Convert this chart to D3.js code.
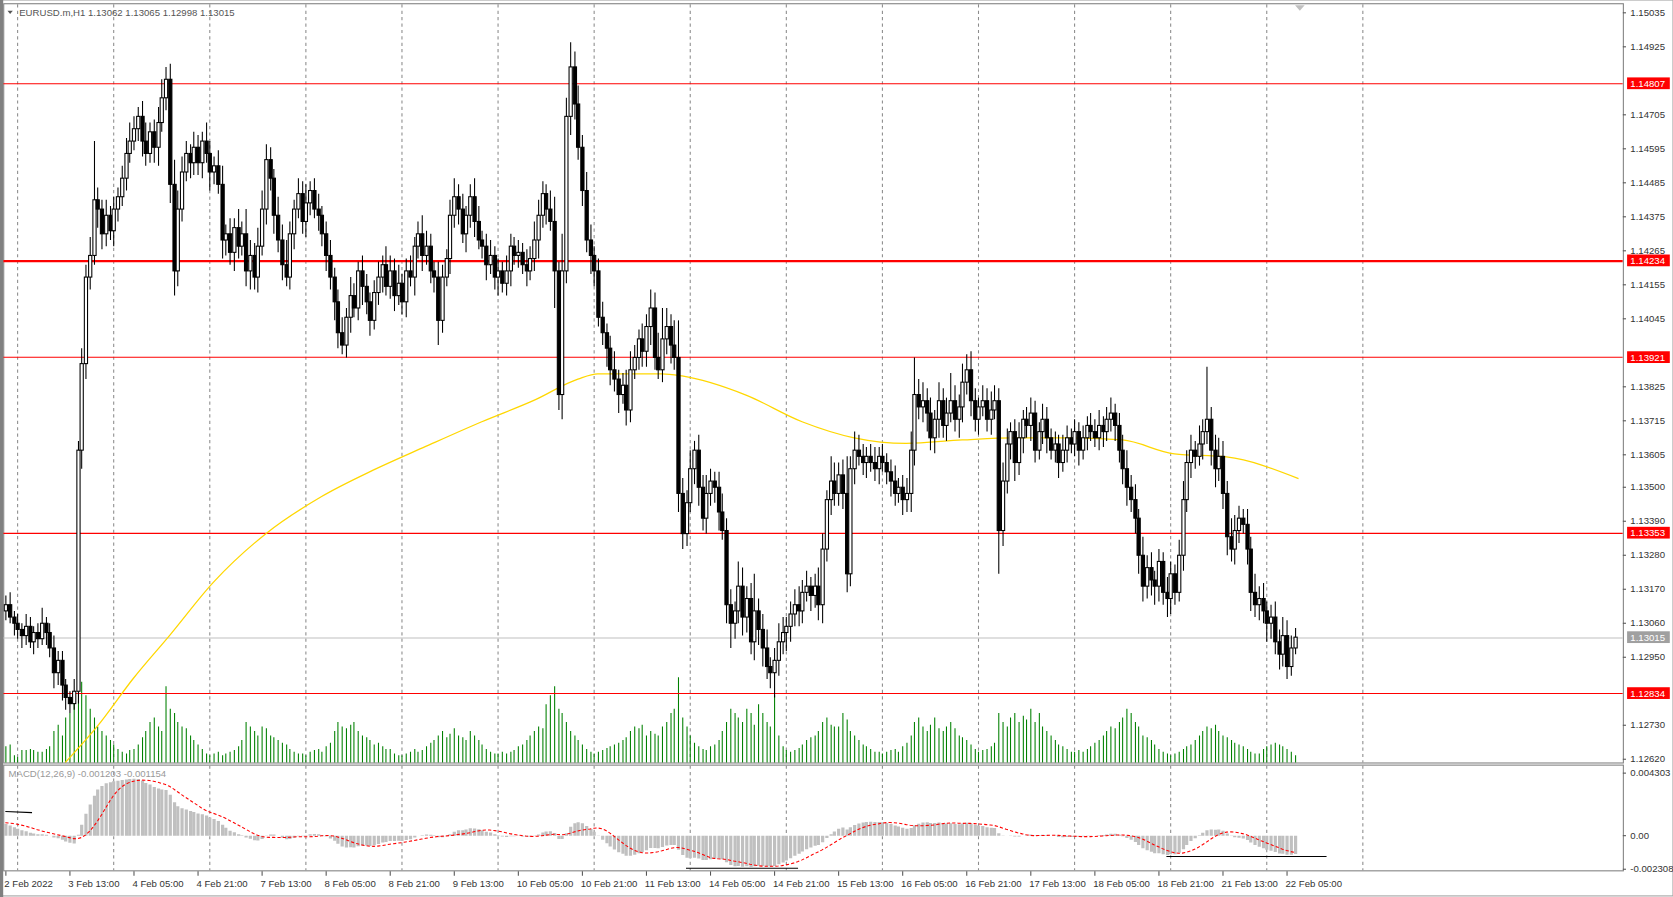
<!DOCTYPE html>
<html><head><meta charset="utf-8">
<script src="https://cdn.jsdelivr.net/npm/d3@7"></script>
<style>body{margin:0;background:#fff}svg{display:block}text{font-family:"Liberation Sans",Arial,sans-serif}</style>
</head><body><svg id="c" width="1673" height="897"></svg>
<script>
// closes in pips (1305 => 1.1305), one per H1 bar starting 2 Feb 21:00
const closes=[
1312,1308,1306,1304,1302,1305,1300,1303,1301,1306,1303,1298,1290,1294,1286,1282,
1280,1284,1362,1390,1418,1425,1443,1440,1432,1438,1433,1440,1444,1450,1458,1462,
1466,1470,1462,1458,1465,1460,1468,1476,1482,1448,1420,1440,1452,1458,1455,1460,
1455,1462,1458,1452,1454,1448,1430,1432,1426,1434,1428,1432,1420,1425,1418,1428,
1440,1456,1450,1438,1430,1422,1418,1432,1440,1445,1436,1442,1446,1440,1438,1432,
1425,1418,1410,1400,1396,1405,1412,1408,1420,1415,1410,1404,1413,1418,1422,1415,
1420,1412,1416,1410,1420,1418,1428,1432,1425,1428,1420,1418,1404,1418,1424,1438,
1444,1440,1432,1438,1444,1436,1430,1428,1422,1425,1418,1420,1416,1420,1428,1425,
1426,1422,1420,1424,1430,1438,1445,1440,1436,1420,1380,1420,1470,1486,1474,1460,
1446,1430,1425,1420,1405,1400,1395,1388,1385,1380,1383,1375,1388,1392,1398,1394,
1402,1408,1392,1388,1398,1402,1396,1392,1348,1335,1345,1356,1362,1350,1340,1348,
1352,1350,1342,1336,1312,1306,1310,1318,1308,1314,1300,1310,1304,1298,1292,1290,
1294,1300,1303,1305,1309,1312,1310,1316,1318,1315,1318,1312,1330,1346,1352,1348,
1354,1348,1322,1356,1362,1360,1358,1360,1358,1356,1360,1358,1355,1352,1348,1350,
1346,1348,1362,1380,1376,1378,1374,1366,1372,1378,1370,1374,1378,1372,1376,1384,
1388,1378,1372,1376,1378,1372,1375,1378,1336,1352,1364,1368,1358,1366,1372,1370,
1374,1362,1368,1372,1366,1362,1364,1358,1362,1366,1364,1368,1362,1366,1370,1368,
1366,1370,1368,1372,1374,1370,1362,1356,1350,1346,1340,1328,1318,1324,1320,1318,
1326,1316,1314,1322,1316,1328,1346,1358,1362,1360,1364,1368,1372,1362,1356,1360,
1348,1334,1330,1336,1340,1338,1330,1316,1312,1314,1310,1306,1308,1300,1296,1302,
1292,1298,1301.5];
const firstOpen=1310;
const upWick=[
3,4,2,3,2,4,3,2,3,5,2,3,4,3,3,2, 2,4,3,5,4,6,19,4,3,5,3,4,3,4,5,6,
4,3,5,6,3,4,5,6,4,5,8,6,5,4,3,5, 4,3,6,4,3,5,6,3,5,3,6,4,8,5,4,6,
6,5,4,3,6,5,8,4,3,5,4,6,3,4,5,3, 4,5,3,4,5,3,6,4,3,5,4,3,4,5,3,6,
5,4,6,3,4,5,3,4,6,5,4,3,5,4,3,5, 6,4,5,3,4,6,5,3,4,5,3,4,3,5,4,3,
4,3,5,4,6,5,4,3,6,8,3,12,6,8,5,6, 4,6,5,3,4,5,3,4,6,3,4,5,6,4,3,5,
4,6,5,8,10,6,4,8,12,5,4,6,3,5,4,6, 4,3,5,6,4,5,3,8,6,4,5,12,4,5,6,3,
4,6,5,3,4,5,6,4,5,3,4,6,5,3,8,6, 4,5,12,4,6,5,4,3,4,5,3,4,3,4,5,3,
4,5,6,12,5,6,4,5,3,6,4,5,9,5,4,6, 5,6,4,3,5,4,6,5,4,6,5,3,4,5,3,4,
5,4,3,5,4,3,4,3,5,4,3,4,3,4,3,4, 4,5,3,4,5,3,4,5,6,4,5,3,6,4,5,3,
4,3,5,4,3,5,6,4,5,3,6,4,17,4,5,6, 5,4,6,5,4,3,5,4,6,4,5,3,4,5,4,6, 5,4,3];
const downWick=[
3,2,4,3,4,3,2,4,3,2,4,3,5,4,5,4, 3,2,4,6,5,4,3,6,5,4,3,5,4,3,4,3,
3,4,5,4,3,5,6,3,4,6,8,5,4,3,5,4, 4,5,3,6,4,3,6,5,4,6,4,3,5,6,4,5,
3,5,4,6,4,5,3,4,5,3,4,5,4,3,5,4, 5,4,6,5,3,4,5,3,4,6,4,5,3,4,5,3,
4,5,3,4,5,3,6,4,5,3,4,5,8,4,3,5, 4,5,3,6,4,5,3,4,5,3,4,6,3,4,5,3,
4,3,5,3,4,6,4,5,3,12,5,8,4,6,5,4, 5,4,6,5,3,4,6,5,4,6,3,5,4,3,4,5,
5,6,4,3,4,5,6,4,6,5,4,3,5,6,4,5, 4,5,6,3,6,8,5,4,6,5,4,6,5,6,4,5,
8,5,4,6,5,4,5,4,3,5,4,5,6,4,5,4, 4,5,6,4,5,3,4,5,3,4,5,3,4,5,4,3,
5,4,6,5,4,5,6,4,5,6,4,5,3,4,6,5, 4,5,4,5,3,4,5,3,14,5,4,5,6,4,5,4,
5,4,3,4,5,3,4,5,3,4,3,4,5,3,4,3, 3,4,5,3,4,5,4,5,6,4,5,6,5,4,5,6,
5,4,6,5,4,3,5,4,5,4,3,5,4,5,6,4, 5,6,4,5,4,3,5,6,4,5,4,6,5,4,5,4, 4,3,2];
const volumes=[
18,20,8,6,14,14,15,14,12,12,15,18,35,42,30,50, 55,70,95,90,75,60,50,40,35,30,25,20,15,12,10,14,
15,20,28,35,45,50,40,35,85,60,55,45,40,38,30,25, 20,15,10,8,10,12,8,10,12,14,18,25,45,40,35,30,
40,38,30,28,25,22,20,15,12,10,10,8,12,14,15,12, 18,22,35,45,40,38,42,45,35,30,28,25,20,22,18,15,
15,10,8,8,10,12,15,12,14,18,22,25,30,35,28,32, 38,30,28,25,35,30,25,20,15,12,10,10,12,10,12,14,
18,20,25,30,35,40,38,65,75,85,60,55,45,35,30,25, 20,15,12,10,12,14,16,18,20,22,25,28,35,40,38,42,
30,35,32,30,40,45,55,60,95,50,40,30,22,18,15,14, 18,20,25,35,45,60,55,50,45,60,55,42,65,55,45,40,
75,30,18,14,12,14,16,20,25,28,30,35,45,50,42,40, 40,55,48,35,30,25,20,18,15,12,12,10,12,14,15,12,
18,22,30,45,50,40,35,42,50,38,35,40,45,38,30,28, 25,20,15,12,14,15,18,22,55,45,40,50,55,45,52,48,
60,45,55,40,35,30,25,20,18,15,12,12,14,12,15,18, 22,25,30,35,40,38,45,50,60,55,45,40,30,28,25,20,
15,12,10,8,10,12,15,18,20,25,30,35,40,38,42,35, 30,28,25,22,20,18,15,12,10,10,15,18,20,22,20,18, 15,12,8];
// moving average readings (bar index, pips)
const maBars=[15,23,32,41,52,65,79,92,105,119,132,143,148,164,169,185,199,212,225,239,252,265,279,292,305,323];
const maVals=[1261,1272.7,1288.2,1302,1319.3,1334.9,1347,1355.6,1363.2,1371.2,1378.1,1385,1386.7,1386.7,1386,1379.8,1371.2,1366,1364.2,1365.3,1366,1366,1365.3,1360.8,1359.8,1352.8];
const levels=[1.14807,1.14234,1.13921,1.13353,1.12834];
const levelWidth=[1,2,1,1,1];
const priceTicks=["1.15035","1.14925","1.14705","1.14595","1.14485","1.14375","1.14265","1.14155","1.14045","1.13825","1.13715","1.13605","1.13500","1.13390","1.13280","1.13170","1.13060","1.12950","1.12730","1.12620"];
const xLabels=["2 Feb 2022","3 Feb 13:00","4 Feb 05:00","4 Feb 21:00","7 Feb 13:00","8 Feb 05:00","8 Feb 21:00","9 Feb 13:00","10 Feb 05:00","10 Feb 21:00","11 Feb 13:00","14 Feb 05:00","14 Feb 21:00","15 Feb 13:00","16 Feb 05:00","16 Feb 21:00","17 Feb 13:00","18 Feb 05:00","18 Feb 21:00","21 Feb 13:00","22 Feb 05:00"];
const macdTicks=["0.004303","0.00","-0.002308"];
const macdSeed={fast:1.13150,slow:1.13060,signal:0.00090};
const lastPrice=1.13015;

const root=d3.select("#c");
const svg=root.append("g").attr("transform","scale("+(1673/1567)+","+(897/840)+")");
const P=v=>1+v/10000;
const x=d3.scaleLinear().domain([0,1]).range([5,8.75]);
const y=d3.scaleLinear().domain([1.12620,1.15035]).range([711,12]);
const yv=d3.scaleLinear().domain([0,100]).range([714,630]);
const ym=d3.scaleLinear().domain([-0.002308,0.004303]).range([814,724]);
const R=1520;
const bars=closes.map((c,i)=>{const o=i?closes[i-1]:firstOpen;return{i,o:P(o),c:P(c),h:P(Math.max(o,c)+upWick[i]),l:P(Math.min(o,c)-downWick[i]),v:volumes[i]};});

root.append("defs").html('<clipPath id="cp"><rect x="3" y="3" width="1517" height="712"/></clipPath><clipPath id="cm"><rect x="3" y="717" width="1517" height="98"/></clipPath>');
svg.append("rect").attr("x",0).attr("y",0).attr("width",1567).attr("height",839).attr("fill","#fff").attr("stroke","#a0a0a0");
svg.append("line").attr("x1",1.5).attr("x2",1.5).attr("y1",0).attr("y2",840).attr("stroke","#808080").attr("stroke-width",3);
svg.append("rect").attr("x",3.5).attr("y",3.5).attr("width",R-3).attr("height",711).attr("fill","none").attr("stroke","#808080");
svg.append("rect").attr("x",3.5).attr("y",716.5).attr("width",R-3).attr("height",99).attr("fill","none").attr("stroke","#808080");
const g=svg.append("g");
for(let b=3;b<=340;b+=24){const gx=Math.round(x(b))+0.5;
 g.append("line").attr("x1",gx).attr("x2",gx).attr("y1",4).attr("y2",714).attr("stroke","#8c8c8c").attr("stroke-dasharray","3,3");
 g.append("line").attr("x1",gx).attr("x2",gx).attr("y1",717).attr("y2",815).attr("stroke","#8c8c8c").attr("stroke-dasharray","3,3");}
const pg=svg.append("g").attr("clip-path","url(#cp)");
pg.selectAll("line.v").data(bars).join("line").attr("x1",d=>Math.round(x(d.i))+0.5).attr("x2",d=>Math.round(x(d.i))+0.5)
 .attr("y1",714).attr("y2",d=>yv(d.v)).attr("stroke","#008000");
levels.forEach((L,k)=>pg.append("line").attr("x1",3).attr("x2",R).attr("y1",Math.round(y(L))+0.5).attr("y2",Math.round(y(L))+0.5).attr("stroke","#ff0000").attr("stroke-width",levelWidth[k]));
pg.append("line").attr("x1",3).attr("x2",R).attr("y1",Math.round(y(lastPrice))+0.5).attr("y2",Math.round(y(lastPrice))+0.5).attr("stroke","#c0c0c0");
pg.append("path").datum(maBars.map((b,k)=>[b,P(maVals[k])])).attr("fill","none").attr("stroke","#ffd700").attr("stroke-width",1.2)
 .attr("d",d3.line().x(d=>x(d[0])).y(d=>y(d[1])).curve(d3.curveMonotoneX));
const cg=pg.selectAll("g.k").data(bars).join("g");
cg.append("line").attr("x1",d=>Math.round(x(d.i))+0.5).attr("x2",d=>Math.round(x(d.i))+0.5).attr("y1",d=>y(d.h)).attr("y2",d=>y(d.l)).attr("stroke","#000");
cg.append("rect").attr("x",d=>Math.round(x(d.i))-1).attr("width",3).attr("y",d=>Math.min(y(d.o),y(d.c))).attr("height",d=>Math.max(1,Math.abs(y(d.o)-y(d.c))))
 .attr("fill",d=>d.c>=d.o?"#fff":"#000").attr("stroke","#000").attr("stroke-width",1);
let ef=macdSeed.fast,es=macdSeed.slow;const mac=[],sig=[];
bars.forEach((d,i)=>{ef+=(d.c-ef)*2/13;es+=(d.c-es)*2/27;mac.push(ef-es);
 const w=mac.slice(Math.max(0,i-8));const pad=9-w.length;sig.push((d3.sum(w)+pad*macdSeed.signal)/9);});
const mg=svg.append("g").attr("clip-path","url(#cm)");
mg.selectAll("line.m").data(mac).join("line").attr("x1",(d,i)=>Math.round(x(i))+0.5).attr("x2",(d,i)=>Math.round(x(i))+0.5)
 .attr("y1",ym(0)).attr("y2",d=>ym(d)).attr("stroke","#c0c0c0").attr("stroke-width",3);
mg.append("path").datum(sig).attr("fill","none").attr("stroke","#ff0000").attr("stroke-dasharray","3,2")
 .attr("d",d3.line().x((d,i)=>x(i)).y(d=>ym(d)));
mg.append("line").attr("x1",5).attr("x2",30).attr("y1",760).attr("y2",761).attr("stroke","#000");
mg.append("line").attr("x1",x(170)).attr("x2",x(198)).attr("y1",813).attr("y2",813).attr("stroke","#000");
mg.append("line").attr("x1",x(290)).attr("x2",x(330)).attr("y1",802).attr("y2",802).attr("stroke","#000");
const ax=svg.append("g").attr("font-size",9).attr("fill","#333");
priceTicks.forEach(t=>{const ty=y(+t);ax.append("line").attr("x1",R).attr("x2",R+3).attr("y1",ty).attr("y2",ty).attr("stroke","#555");
 ax.append("text").attr("x",R+7).attr("y",ty+3).text(t);});
function tag(v,txt,col){const ty=y(v);ax.append("rect").attr("x",R+4).attr("y",ty-5.5).attr("width",40).attr("height",11).attr("fill",col);
 ax.append("text").attr("x",R+7).attr("y",ty+3.5).attr("fill","#fff").text(txt);}
levels.forEach(L=>tag(L,L.toFixed(5),"#ff0000"));
tag(lastPrice,lastPrice.toFixed(5),"#a0a0a0");
[0.004303,0,-0.002308].forEach((v,k)=>{const ty=ym(v);ax.append("line").attr("x1",R).attr("x2",R+3).attr("y1",ty).attr("y2",ty).attr("stroke","#555");
 ax.append("text").attr("x",R+7).attr("y",ty+3).text(macdTicks[k]);});
xLabels.forEach((t,k)=>{const b=k*16;const tx=Math.round(x(b));
 ax.append("line").attr("x1",tx+0.5).attr("x2",tx+0.5).attr("y1",816).attr("y2",820).attr("stroke","#555");
 ax.append("text").attr("x",tx-1).attr("y",831).text(t);});
svg.append("path").attr("d","M7,10 L12,10 L9.5,13 Z").attr("fill","#555");
svg.append("text").attr("x",18).attr("y",15).attr("font-size",9).attr("fill","#555").text("EURUSD.m,H1  1.13062 1.13065 1.12998 1.13015");
svg.append("text").attr("x",8).attr("y",728).attr("font-size",9).attr("fill","#999").text("MACD(12,26,9) -0.001203 -0.001154");
svg.append("path").attr("d","M1213,5 L1222,5 L1217.5,10 Z").attr("fill","#c0c0c0");
</script></body></html>
